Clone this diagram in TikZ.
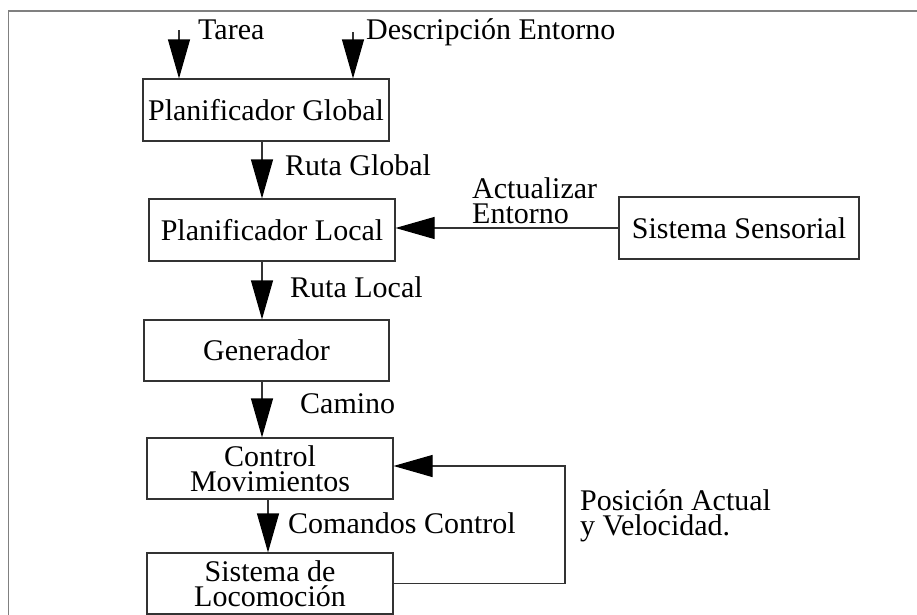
\documentclass[tikz,border=0pt]{standalone}
\usepackage{fontspec}
\setmainfont{Liberation Serif}
\usetikzlibrary{arrows.meta}
\begin{document}
\begin{tikzpicture}[x=1pt,y=-1pt,
  every node/.style={font=\fontsize{30}{25}\selectfont, inner sep=0pt},
  blk/.style={draw=black!80, line width=1.1pt, minimum height=62pt, align=center},
  lbl/.style={anchor=base west},
  lbl2/.style={anchor=north west, align=left},
  conn/.style={draw=black!80, line width=1.1pt, -{Triangle[length=39pt,width=22pt,color=black]}},
]
\useasboundingbox (0,0) rectangle (917,614);
% outer frame
\draw[gray, line width=1.6pt] (8.5,625) -- (8.5,11) -- (930,11);

% boxes
\node[blk, minimum width=246pt] (pg) at (266,110) {Planificador Global};
\node[blk, minimum width=246pt] (pl) at (272,230) {Planificador Local};
\node[blk, minimum width=240pt] (ss) at (739,228) {Sistema Sensorial};
\node[blk, minimum width=245pt, minimum height=61pt] (gen) at (266.5,350.5) {Generador};
\node[blk, minimum width=246pt, minimum height=61pt] (cm) at (270,468.5) {Control\\Movimientos};
\node[blk, minimum width=246pt, minimum height=61pt] (loc) at (270,583.5) {Sistema de\\Locomoción};

% labels
\node[lbl] (lt) at (198,39) {Tarea};
\node[lbl] (ld) at (366,39) {Descripción Entorno};
\node[lbl] (lrg) at (285,175) {Ruta Global};
\node[lbl2] (lae) at (472,177.5) {Actualizar\\Entorno};
\node[lbl] (lrl) at (290,297) {Ruta Local};
\node[lbl] (lca) at (300,413) {Camino};
\node[lbl] (lcc) at (288,533) {Comandos Control};
\node[lbl2] (lpv) at (580,489.5) {Posición Actual\\y Velocidad.};

% free ends and guides
\coordinate (t0) at (179,30);
\coordinate (d0) at (353,32);
\coordinate (xa) at (262,0);
\coordinate (xb) at (268,0);
\coordinate (fbtop) at (565,466);

% connectors
\draw[conn] (t0) -- (t0 |- pg.north);
\draw[conn] (d0) -- (d0 |- pg.north);
\draw[conn] (pg.south -| xa) -- (pl.north -| xa);
\draw[conn] (ss.west) -- (ss.west -| pl.east);
\draw[conn] (pl.south -| xa) -- (gen.north -| xa);
\draw[conn] (gen.south -| xa) -- (cm.north -| xa);
\draw[conn] (cm.south -| xb) -- (loc.north -| xb);
\draw[conn] (loc.east) -| (fbtop) -- (fbtop -| cm.east);
\end{tikzpicture}
\end{document}
